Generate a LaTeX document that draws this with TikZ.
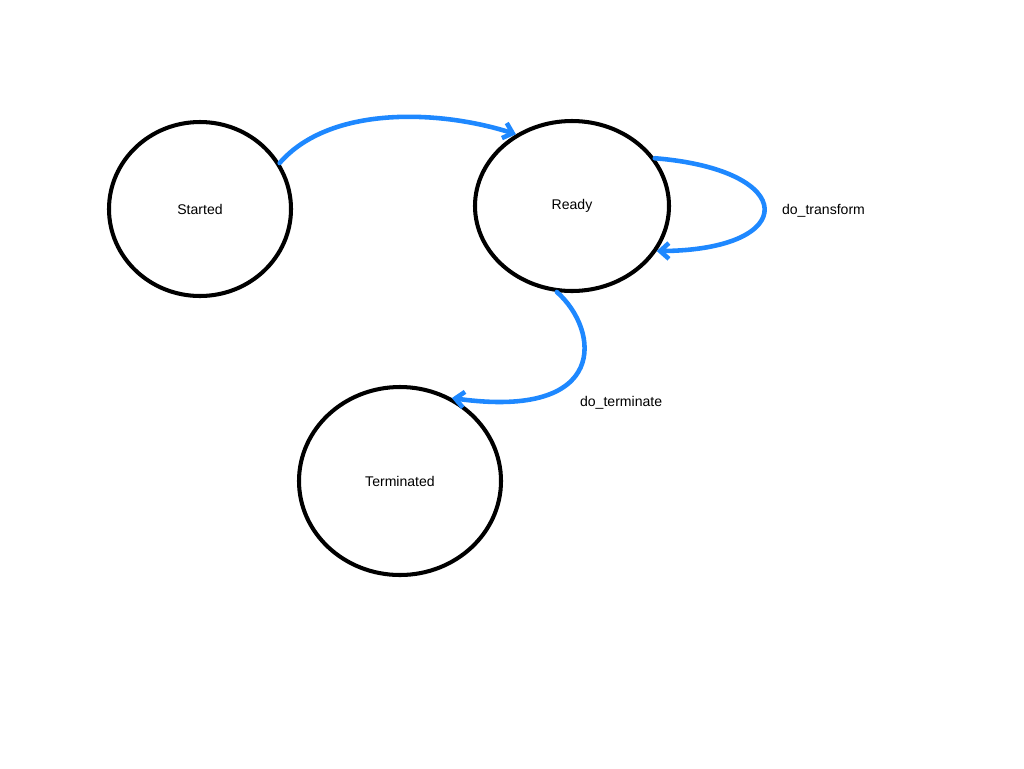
\documentclass[tikz,border=0pt]{standalone}
\usepackage{fontspec}
\setmainfont{Liberation Sans}
\usetikzlibrary{shapes.geometric,arrows.meta}
\definecolor{handblue}{RGB}{30,136,255}
\begin{document}
\begin{tikzpicture}[
            x=0.02cm, y=-0.02cm,
            state/.style={ellipse, draw, line width=2.3pt, font=\fontsize{8}{10}\selectfont, inner sep=0pt},
            trans/.style={->, >={Straight Barb[length=5pt,width=9pt]}, draw=handblue, line width=2.6pt, line cap=round},
            lbl/.style={font=\fontsize{8}{10}\selectfont, inner sep=1pt}
        ]
            \useasboundingbox (0,0) rectangle (1024,768);
            % States
            \node[state, minimum width=182\pgflinewidth/2.3, minimum height=174*0.02cm, minimum width=182*0.02cm] (started) at (200,209) {Started};
            \node[state, minimum width=194*0.02cm, minimum height=170*0.02cm] (ready) at (572,206) {Ready};
            \node[state, minimum width=202*0.02cm, minimum height=188*0.02cm] (terminated) at (400,481) {Terminated};

            % Transitions
            \draw[trans] (started.30) .. controls (330,105) and (440,110) .. (ready.128);
            \draw[trans] (ready.30) .. controls (800,170) and (800,250) .. (ready.-28);
            \node[lbl, anchor=west] (lblT) at (780,211) {do\_transform};
            \draw[trans] (ready.-100) .. controls (600,330) and (610,420) .. (terminated.58);
            \node[lbl, anchor=west] (lblD) at (578,403) {do\_terminate};
        \end{tikzpicture}
\end{document}
